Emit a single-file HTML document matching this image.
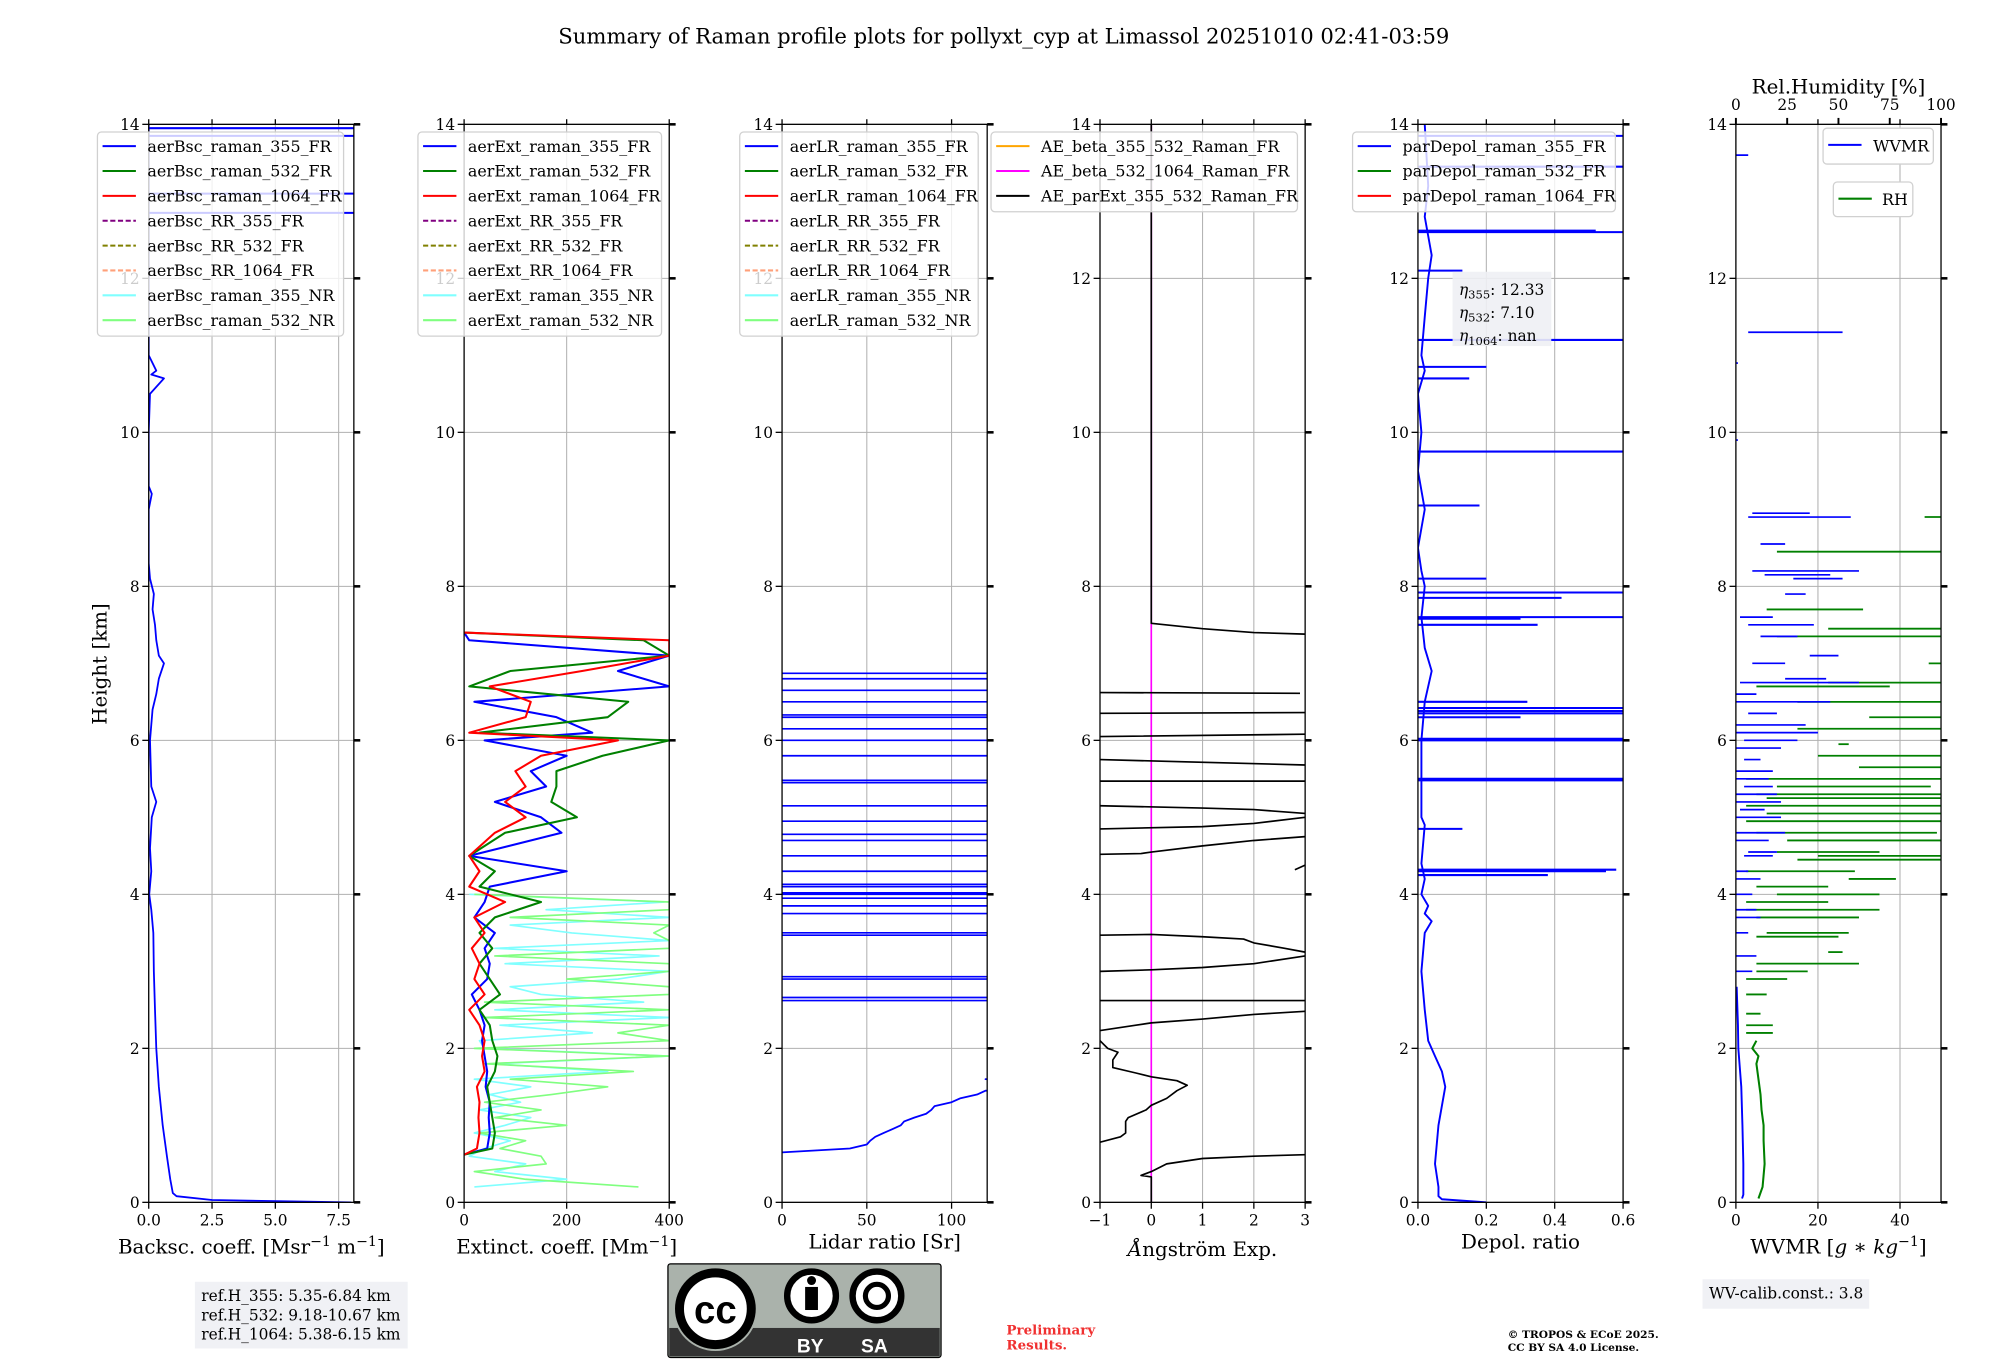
<!DOCTYPE html>
<html><head><meta charset="utf-8"><style>
html,body{margin:0;padding:0;background:#fff}
svg{display:block}
text{font-family:"DejaVu Serif","Liberation Serif",serif;fill:#000}
</style></head><body>
<svg id="fig" width="2000" height="1360" viewBox="0 0 1560 1061" preserveAspectRatio="none" xmlns="http://www.w3.org/2000/svg">
<text x="783" y="34" font-size="16.5" text-anchor="middle">Summary of Raman profile plots for pollyxt_cyp at Limassol 20251010 02:41-03:59</text>
<text transform="translate(83,518) rotate(-90)" font-size="15.5" text-anchor="middle">Height [km]</text>
<g id="panels"></g>
<g>
<rect x="152" y="1000" width="166" height="52" fill="#f0f1f5"/>
<text x="157" y="1015" font-size="12">ref.H_355: 5.35-6.84 km</text>
<text x="157" y="1030" font-size="12">ref.H_532: 9.18-10.67 km</text>
<text x="157" y="1045" font-size="12">ref.H_1064: 5.38-6.15 km</text>
</g>
<g>
<rect x="521" y="986" width="213" height="73" rx="2" fill="#aab2ab" stroke="#000" stroke-width="1"/>
<rect x="522" y="1036" width="211" height="22" fill="#333"/>
<circle cx="558" cy="1021" r="33" fill="#aab2ab"/>
<circle cx="558" cy="1021" r="28" fill="#fff" stroke="#000" stroke-width="7"/>
<text x="558" y="1032" font-size="30" font-weight="bold" text-anchor="middle" style="font-family:'Liberation Sans',sans-serif">cc</text>
<circle cx="633" cy="1011" r="19" fill="#fff" stroke="#000" stroke-width="5"/>
<circle cx="633" cy="999" r="3.5" fill="#000"/><rect x="628" y="1004" width="10" height="18" fill="#000"/>
<circle cx="684" cy="1011" r="19" fill="#fff" stroke="#000" stroke-width="5"/>
<circle cx="684" cy="1011" r="9" fill="none" stroke="#000" stroke-width="4"/>
<text x="632" y="1055" font-size="15" font-weight="bold" text-anchor="middle" style="fill:#fff;font-family:'Liberation Sans',sans-serif">BY</text>
<text x="682" y="1055" font-size="15" font-weight="bold" text-anchor="middle" style="fill:#fff;font-family:'Liberation Sans',sans-serif">SA</text>
</g>
<text x="785" y="1041" font-size="10.5" font-weight="bold" style="fill:#f03030">Preliminary</text>
<text x="785" y="1053" font-size="10.5" font-weight="bold" style="fill:#f03030">Results.</text>
<text x="1176" y="1044" font-size="8.3" font-weight="bold">© TROPOS &amp; ECoE 2025.</text>
<text x="1176" y="1054" font-size="8.3" font-weight="bold">CC BY SA 4.0 License.</text>
<g>
<rect x="1328" y="998" width="130" height="23" fill="#f0f1f5"/>
<text x="1333" y="1013" font-size="12">WV-calib.const.: 3.8</text>
</g>
</svg>
<script>
// ---------- data ----------
const heightTicks=[0,2,4,6,8,10,12,14];
// backscatter 355 FR (base profile)
const bscH=[0,0.03,0.08,0.12,0.3,0.6,1.0,1.5,2.0,2.5,3.0,3.5,3.8,4.0,4.3,4.6,5.0,5.2,5.4,6.0,6.4,6.6,6.8,7.0,7.1,7.3,7.5,7.7,7.9,8.1,8.3,9.0,9.2,9.3,9.6,10.0,10.5,10.7,10.75,10.8,11.0,12.0,14.0];
const bscV=[8.0,2.5,1.1,0.95,0.85,0.72,0.55,0.4,0.3,0.25,0.2,0.18,0.1,0.02,0.1,0.05,0.12,0.3,0.1,0.05,0.15,0.3,0.4,0.6,0.4,0.3,0.25,0.15,0.2,0.05,0.0,0.0,0.12,0.0,0.0,0.0,0.05,0.6,0.1,0.3,0.0,0.0,0.0];
const bscSpikeH=[12.85,13.1,13.85,13.95];
const bscSpikeV=[8.1,8.1,8.1,8.1];
// extinction FR
const extH=[0.62,0.7,0.9,1.1,1.3,1.5,1.7,1.9,2.1,2.3,2.5,2.7,2.9,3.1,3.3,3.5,3.7,3.9,4.1,4.3,4.5,4.8,5.0,5.2,5.4,5.6,5.8,6.0,6.1,6.3,6.5,6.7,6.9,7.1,7.3,7.4];
const ext355=[0,45,50,48,50,42,45,40,35,40,30,15,45,50,40,60,20,40,50,200,10,190,150,60,160,130,200,40,250,180,20,400,300,400,10,0];
const ext532=[0,55,60,55,50,45,60,65,55,50,30,70,50,30,55,30,60,150,30,60,10,80,220,170,180,180,270,400,30,280,320,10,90,400,350,0];
const ext1064=[0,25,30,28,30,25,40,35,40,30,10,40,20,30,15,40,20,80,10,30,10,60,120,80,120,100,150,300,10,120,130,50,230,400,400,0];
// near range extinction (spiky)
const nrH=[0.2,0.3,0.4,0.5,0.6,0.7,0.8,0.9,1.0,1.1,1.2,1.3,1.4,1.5,1.6,1.7,1.8,1.9,2.0,2.1,2.2,2.3,2.4,2.5,2.6,2.7,2.8,2.9,3.0,3.1,3.2,3.3,3.4,3.5,3.6,3.7,3.8,3.9,4.0];
const nr355=[20,200,60,120,10,40,90,20,80,130,30,110,50,130,20,280,60,400,40,30,250,70,400,60,350,150,90,300,400,80,380,60,400,210,90,400,160,390,10];
const nr532=[340,120,20,160,150,70,120,30,200,60,150,40,170,280,90,330,40,400,20,400,300,400,40,400,40,400,400,200,400,400,60,400,400,370,400,90,400,400,20];
// lidar ratio 355
const lrH=[0.65,0.7,0.75,0.8,0.85,0.9,0.95,1.0,1.05,1.1,1.15,1.2,1.25,1.3,1.35,1.4,1.45,1.5,1.6,1.65];
const lrV=[0,40,50,52,55,60,65,70,72,78,85,88,90,100,105,115,120,200,120,200];
const lrSpikeH=[2.62,2.66,2.9,2.93,3.47,3.5,3.75,3.85,3.95,4.0,4.02,4.1,4.13,4.3,4.5,4.7,4.78,4.95,5.15,5.45,5.48,5.8,6.0,6.15,6.3,6.33,6.5,6.65,6.8,6.87];
// Angstrom exponent (null = gap)
const aeH=[0,0.33,0.35,0.4,0.5,0.57,0.6,0.62,null,0.78,0.85,0.9,1.05,1.1,1.2,1.26,1.35,1.45,1.52,1.58,1.63,1.68,1.75,1.85,1.95,2.0,2.1,null,2.23,2.3,2.33,2.38,2.44,2.48,null,2.62,2.62,null,3.0,3.02,3.05,3.1,3.2,null,3.47,3.48,3.45,3.42,3.37,3.3,3.25,null,4.32,4.38,null,4.52,4.53,4.55,4.63,4.7,4.75,null,4.85,4.88,4.92,5.0,null,5.15,5.12,5.1,5.05,null,5.47,5.47,null,5.75,5.68,null,6.05,6.08,null,6.35,6.36,null,6.62,6.61,null,14,7.52,7.45,7.4,7.38];
const aeV=[0,0,-0.2,0,0.3,1,2,3,null,-1,-0.6,-0.5,-0.5,-0.45,-0.1,0,0.3,0.5,0.7,0.5,0,-0.3,-0.75,-0.75,-0.65,-0.85,-1,null,-1,-0.3,0,1,2,3,null,-1,3,null,-1,0,1,2,3,null,-1,0,1,1.8,2,2.6,3,null,2.8,3,null,-1,-0.2,0,1,2,3,null,-1,1,2,3,null,-1,1,2,3,null,-1,3,null,-1,3,null,-1,3,null,-1,3,null,-1,2.9,null,0,0,1,2,3];
// depol ratio 355 (base profile + spikes)
const dpH=[0,0.04,0.08,0.2,0.5,1.0,1.5,1.7,1.9,2.1,2.5,3.0,3.5,3.65,3.75,3.85,4.0,4.2,4.4,4.9,5.0,5.5,6.0,6.5,6.9,7.2,7.6,8.0,8.2,8.5,9.0,9.5,10.0,10.5,10.8,11.0,11.5,12.0,12.3,12.8,13.2,14];
const dpV=[0.2,0.07,0.06,0.06,0.05,0.06,0.08,0.07,0.05,0.03,0.02,0.01,0.02,0.04,0.02,0.03,0.01,0.02,0.01,0.02,0.01,0.01,0.01,0.02,0.04,0.02,0.01,0.02,0.01,0.0,0.02,0.0,0.01,0.0,0.02,0.01,0.02,0.03,0.04,0.02,0.03,0.02];
const dpSpikeH=[4.25,4.3,4.32,4.85,5.48,5.5,6.0,6.02,6.3,6.35,6.38,6.42,6.5,7.5,7.58,7.6,7.85,7.92,8.1,9.05,9.75,10.7,10.85,11.2,12.1,12.6,12.62,13.45,13.85];
const dpSpikeV=[0.38,0.55,0.58,0.13,0.6,0.6,0.6,0.6,0.3,0.6,0.6,0.6,0.32,0.35,0.3,0.6,0.42,0.6,0.2,0.18,0.6,0.15,0.2,0.6,0.13,0.6,0.52,0.6,0.6];
// WVMR
const wvH=[0.05,0.1,0.5,1.0,1.5,2.0,2.3,2.6,2.8];
const wvV=[1.5,1.8,1.8,1.6,1.3,0.6,0.5,0.3,0.2];
const wvSegH=[3.0,3.2,3.5,3.7,3.8,4.0,4.2,4.3,4.5,4.55,4.7,4.8,5.0,5.1,5.2,5.3,5.4,5.5,5.6,5.75,5.9,6.0,6.1,6.2,6.35,6.5,6.6,6.75,6.8,7.0,7.1,7.35,7.5,7.6,7.9,8.1,8.15,8.2,8.55,8.9,8.95,9.9,10.9,11.3,13.6];
const wvSegX0=[0,0,0,0,0,0,0,0,2,3,0,0,0,1,0,0,2,0,0,2,0,2,0,0,3,0,0,1,12,4,18,6,3,1,12,14,7,4,6,3,4,0,0,3,0];
const wvSegX1=[4,5,3,6,5,4,6,3,9,10,8,12,11,7,11,10,9,8,9,6,11,15,20,17,10,23,5,30,22,12,25,15,19,9,17,26,23,30,12,28,18,0.5,0.5,26,3];
// RH segments (percent, top axis)
const rhH=[2.2,2.3,2.45,2.7,2.9,3.0,3.1,3.25,3.45,3.5,3.7,3.8,3.9,4.0,4.1,4.2,4.3,4.45,4.5,4.55,4.7,4.8,4.95,5.05,5.15,5.25,5.3,5.4,5.5,5.65,5.8,5.95,6.15,6.3,6.5,6.7,6.75,7.0,7.35,7.45,7.7,8.45,8.9];
const rhX0=[5,5,5,5,5,10,10,45,10,15,10,5,5,20,10,55,5,30,40,20,25,10,5,15,5,15,10,20,5,60,40,50,30,65,30,10,45,94,20,45,15,20,92];
const rhX1=[18,18,12,15,25,35,60,52,50,55,60,70,45,70,45,78,58,100,100,70,100,98,100,100,100,100,100,95,100,100,100,55,100,100,100,75,100,100,100,100,62,100,100];
// RH smooth near surface (percent)
const rhLowH=[0.05,0.2,0.5,0.8,1.0,1.2,1.4,1.6,1.8,1.9,2.0,2.1];
const rhLowV=[11,13,14,13.5,13.5,12.5,12,11,10,11,8,10];

// ---------- helpers ----------
const NS="http://www.w3.org/2000/svg";
const root=document.getElementById('panels');
function mk(tag,attrs,parent){const e=document.createElementNS(NS,tag);for(const k in attrs)e.setAttribute(k,attrs[k]);(parent||root).appendChild(e);return e;}
const Y0=938,Y14=97;
function yS(h){return Y0+(Y14-Y0)*h/14;}
const panels=[
 {x0:116,x1:276,min:0,max:8.1,ticks:[0,2.5,5,7.5],lab:['0.0','2.5','5.0','7.5'],name:'backscatter'},
 {x0:362,x1:522,min:0,max:400,ticks:[0,200,400],lab:['0','200','400'],name:'extinction'},
 {x0:610,x1:770,min:0,max:121,ticks:[0,50,100],lab:['0','50','100'],name:'lidar-ratio'},
 {x0:858,x1:1018,min:-1,max:3,ticks:[-1,0,1,2,3],lab:['−1','0','1','2','3'],name:'angstrom'},
 {x0:1106,x1:1266,min:0,max:0.6,ticks:[0,0.2,0.4,0.6],lab:['0.0','0.2','0.4','0.6'],name:'depol'},
 {x0:1354,x1:1514,min:0,max:50,ticks:[0,20,40],lab:['0','20','40'],name:'wvmr'}];
function xf(p){return v=>p.x0+(p.x1-p.x0)*(v-p.min)/(p.max-p.min);}
let clipN=0;
function axes(p){
  const g=mk('g',{});
  
  
  const X=xf(p);
  const grid=mk('g',{stroke:'#b0b0b0','stroke-width':0.8},g);
  
  
  heightTicks.forEach(h=>mk('line',{x1:p.x0,x2:p.x1,y1:yS(h),y2:yS(h)},grid));
  p.ticks.forEach(t=>mk('line',{x1:X(t),x2:X(t),y1:Y14,y2:Y0},grid));
  const id='clip'+(clipN++);
  const cp=mk('clipPath',{id:id},g);mk('rect',{x:p.x0,y:Y14,width:p.x1-p.x0,height:Y0-Y14},cp);
  const plot=mk('g',{'clip-path':'url(#'+id+')'},g);
  
  
  return {g,plot,X};
}
function frame(p,g){
  const X=xf(p);
  mk('rect',{x:p.x0,y:Y14,width:p.x1-p.x0,height:Y0-Y14,fill:'none',stroke:'#000','stroke-width':1},g);
  heightTicks.forEach(h=>{
    mk('line',{x1:p.x0-5,x2:p.x0,y1:yS(h),y2:yS(h),stroke:'#000','stroke-width':1},g);
    mk('line',{x1:p.x1,x2:p.x1+5,y1:yS(h),y2:yS(h),stroke:'#000','stroke-width':2},g);
    const t=mk('text',{x:p.x0-7,y:yS(h)+4.5,'font-size':12,'text-anchor':'end'},g);
    
    
    t.textContent=h;
  });
  p.ticks.forEach((t,k)=>{
    mk('line',{x1:X(t),x2:X(t),y1:Y0,y2:Y0+5,stroke:'#000','stroke-width':1},g);
    mk('line',{x1:X(t),x2:X(t),y1:Y14-4,y2:Y14,stroke:'#000','stroke-width':1},g);
    const tx=mk('text',{x:X(t),y:Y0+18,'font-size':12,'text-anchor':'middle'},g);
    
    
    tx.textContent=p.lab[k];
  });
}
function line(parent,X,H,V,color,w,name){
  let d='',pen=false;
  for(let k=0;k<H.length;k++){
    if(H[k]===null||V[k]===null){pen=false;continue;}
    d+=(pen?'L':'M')+X(V[k]).toFixed(1)+','+yS(H[k]).toFixed(1);pen=true;
  }
  const e=mk('path',{d:d,fill:'none',stroke:color,'stroke-width':w,'stroke-linejoin':'round'},parent);
  
  
  return e;
}
function segs(parent,X,H,A,B,color,w,name){
  const g=mk('g',{stroke:color,'stroke-width':w},parent);
  
  
  H.forEach((h,k)=>mk('line',{x1:X(A[k]),x2:X(B[k]),y1:yS(h),y2:yS(h)},g));
}
function legend(x,y,w,entries,name){
  const g=mk('g',{});
  
  
  mk('rect',{x:x,y:y,width:w,height:entries.length*19.4+4,rx:3,fill:'#fff','fill-opacity':0.8,stroke:'#d0d0d0'},g);
  entries.forEach((e,k)=>{
    const yy=y+11+k*19.4;
    const en=mk('g',{},g);
    
    
    mk('line',{x1:x+4,x2:x+30,y1:yy,y2:yy,stroke:e[1],'stroke-width':1.6,'stroke-dasharray':e[2]?'4,2':'none'},en);
    const t=mk('text',{x:x+39,y:yy+4.5,'font-size':12.4},en);t.textContent=e[0];
  });
}
function xlabel(p,txt,name,y){
  const t=mk('text',{x:(p.x0+p.x1)/2,y:y||978,'font-size':15.5,'text-anchor':'middle'});
  
  
  t.innerHTML=txt;
}

// ---------- panel 1 ----------
let a=axes(panels[0]);
line(a.plot,a.X,bscH,bscV,'#0000ff',1.4,'bsc-355-fr-line');
segs(a.plot,a.X,bscSpikeH,bscSpikeH.map(()=>0),bscSpikeV,'#0000ff',1.6,'bsc-355-fr-spikes');
frame(panels[0],a.g);
const legCols=['#0000ff','#008000','#ff0000','#800080','#808000','#ffa07a','#80ffff','#80ff80'];
const legDash=[0,0,0,1,1,1,0,0];
function leg8(prefix){return ['raman_355_FR','raman_532_FR','raman_1064_FR','RR_355_FR','RR_532_FR','RR_1064_FR','raman_355_NR','raman_532_NR'].map((s,k)=>[prefix+s,legCols[k],legDash[k]]);}
legend(76,103,192,leg8('aerBsc_'),'backscatter-legend');
xlabel(panels[0],'Backsc. coeff. [Msr<tspan font-size="11" dy="-6">−1</tspan><tspan dy="6"> m</tspan><tspan font-size="11" dy="-6">−1</tspan><tspan dy="6">]</tspan>','backscatter-x-axis-title');

// ---------- panel 2 ----------
a=axes(panels[1]);
line(a.plot,a.X,nrH,nr355,'#80ffff',1.3,'ext-355-nr-line');
line(a.plot,a.X,nrH,nr532,'#80ff80',1.3,'ext-532-nr-line');
line(a.plot,a.X,extH,ext355,'#0000ff',1.6,'ext-355-fr-line');
line(a.plot,a.X,extH,ext532,'#008000',1.6,'ext-532-fr-line');
line(a.plot,a.X,extH,ext1064,'#ff0000',1.6,'ext-1064-fr-line');
frame(panels[1],a.g);
legend(326,103,190,leg8('aerExt_'),'extinction-legend');
xlabel(panels[1],'Extinct. coeff. [Mm<tspan font-size="11" dy="-6">−1</tspan><tspan dy="6">]</tspan>','extinction-x-axis-title');

// ---------- panel 3 ----------
a=axes(panels[2]);
line(a.plot,a.X,lrH,lrV,'#0000ff',1.4,'lr-355-line');
segs(a.plot,a.X,lrSpikeH,lrSpikeH.map(()=>0),lrSpikeH.map(()=>130),'#0000ff',1.3,'lr-355-spikes');
frame(panels[2],a.g);
legend(577,103,186,leg8('aerLR_'),'lidar-ratio-legend');
xlabel(panels[2],'Lidar ratio [Sr]','lidar-ratio-x-axis-title',974);

// ---------- panel 4 ----------
a=axes(panels[3]);
line(a.plot,a.X,[0,14],[0,0],'#ff00ff',1.3,'ae-beta-532-1064-line');
line(a.plot,a.X,aeH,aeV,'#000000',1.3,'ae-parext-355-532-line');
frame(panels[3],a.g);
legend(773,103,239,[['AE_beta_355_532_Raman_FR','#ffa500'],['AE_beta_532_1064_Raman_FR','#ff00ff'],['AE_parExt_355_532_Raman_FR','#000000']],'angstrom-legend');
xlabel(panels[3],'<tspan font-style="italic">Å</tspan>ngström Exp.','angstrom-x-axis-title',980);

// ---------- panel 5 ----------
a=axes(panels[4]);
line(a.plot,a.X,dpH,dpV,'#0000ff',1.5,'depol-355-line');
segs(a.plot,a.X,dpSpikeH,dpSpikeH.map(()=>0),dpSpikeV,'#0000ff',1.6,'depol-355-spikes');
frame(panels[4],a.g);
legend(1055,103,205,[['parDepol_raman_355_FR','#0000ff'],['parDepol_raman_532_FR','#008000'],['parDepol_raman_1064_FR','#ff0000']],'depol-legend');
const eg=mk('g',{});


mk('rect',{x:1133,y:212,width:77,height:58,fill:'#eef0f4','fill-opacity':0.9},eg);
[['355','12.33',230],['532','7.10',248],['1064','nan',266]].forEach(r=>{const t=mk('text',{x:1138,y:r[2],'font-size':12},eg);t.innerHTML='<tspan font-style="italic">η</tspan><tspan font-size="9" dy="3">'+r[0]+'</tspan><tspan dy="-3">: '+r[1]+'</tspan>';});
xlabel(panels[4],'Depol. ratio','depol-x-axis-title',974);

// ---------- panel 6 ----------
const p6=panels[5];
a=axes(p6);
const XR=v=>p6.x0+(p6.x1-p6.x0)*v/100;
segs(a.plot,XR,rhH,rhX0,rhX1,'#008000',1.4,'rh-segments');
line(a.plot,XR,rhLowH,rhLowV,'#008000',1.6,'rh-line');
line(a.plot,a.X,wvH,wvV,'#0000ff',1.5,'wvmr-line');
segs(a.plot,a.X,wvSegH,wvSegX0,wvSegX1,'#0000ff',1.3,'wvmr-segments');
frame(p6,a.g);
[0,25,50,75,100].forEach(t=>{
  mk('line',{x1:XR(t),x2:XR(t),y1:Y14-5,y2:Y14,stroke:'#000','stroke-width':1.5},a.g);
  const tx=mk('text',{x:XR(t),y:86,'font-size':12,'text-anchor':'middle'},a.g);
  
  
  tx.textContent=t;
});
const rt=mk('text',{x:1434,y:73,'font-size':15.5,'text-anchor':'middle'});


rt.textContent='Rel.Humidity [%]';
const l1=mk('g',{});


mk('rect',{x:1422,y:100,width:86,height:28,rx:3,fill:'#fff',stroke:'#d0d0d0'},l1);
mk('line',{x1:1426,x2:1452,y1:113,y2:113,stroke:'#0000ff','stroke-width':1.6},l1);
mk('text',{x:1461,y:118,'font-size':12.4},l1).textContent='WVMR';
const l2=mk('g',{});


mk('rect',{x:1430,y:142,width:62,height:27,rx:3,fill:'#fff',stroke:'#d0d0d0'},l2);
mk('line',{x1:1434,x2:1460,y1:155,y2:155,stroke:'#008000','stroke-width':1.6},l2);
mk('text',{x:1468,y:160,'font-size':12.4},l2).textContent='RH';
xlabel(p6,'WVMR [<tspan font-style="italic">g</tspan> ∗ <tspan font-style="italic">kg</tspan><tspan font-size="11" dy="-6">−1</tspan><tspan dy="6">]</tspan>','wvmr-x-axis-title');
</script>
</body></html>
